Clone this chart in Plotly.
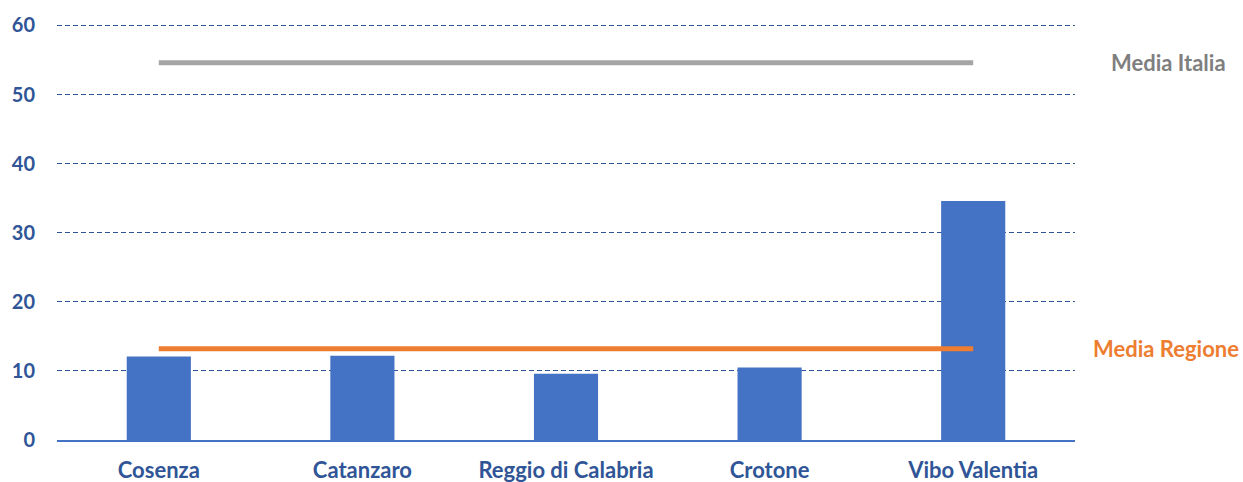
import plotly.graph_objects as go

# Province of Calabria and their values
province = ["Cosenza", "Catanzaro", "Reggio di Calabria", "Crotone", "Vibo Valentia"]
valori = [12.1, 12.2, 9.6, 10.5, 34.6]

# Reference averages
media_italia = 54.6
media_regione = 13.2

y_ticks = [0, 10, 20, 30, 40, 50, 60]

BLUE = "#4472C4"
DARK_BLUE = "#2F5597"
GREY = "#A5A5A5"
ORANGE = "#ED7D31"
FONT = "Lato"

fig = go.Figure()

fig.add_trace(go.Bar(
    x=province, y=valori,
    marker=dict(color=BLUE, line=dict(width=0)),
    width=0.315,
    showlegend=False,
))

fig.add_trace(go.Scatter(
    x=province, y=[media_italia] * len(province),
    mode="lines", line=dict(color=GREY, width=5),
    showlegend=False,
))

fig.add_trace(go.Scatter(
    x=province, y=[media_regione] * len(province),
    mode="lines", line=dict(color=ORANGE, width=5),
    showlegend=False,
))

fig.add_annotation(
    x=1.092, xref="paper", y=media_italia, yref="y",
    text="<b>Media Italia</b>", showarrow=False, xanchor="center",
    font=dict(family=FONT, size=22, color="#7F7F7F"),
)
fig.add_annotation(
    x=1.089, xref="paper", y=media_regione, yref="y",
    text="<b>Media Regione</b>", showarrow=False, xanchor="center",
    font=dict(family=FONT, size=22, color=ORANGE),
)

fig.update_layout(
    width=1243, height=482,
    margin=dict(l=57, r=168, t=22, b=42),
    paper_bgcolor="white", plot_bgcolor="white",
    font=dict(family=FONT, size=20, color=DARK_BLUE),
    xaxis=dict(
        showgrid=False, showline=True, linecolor=BLUE, linewidth=1.5,
        tickfont=dict(family=FONT, size=22, color=DARK_BLUE, weight="bold"),
        ticks="", ticklabelstandoff=10, automargin=False,
    ),
    yaxis=dict(
        range=[0, 60.5], tickvals=y_ticks,
        showgrid=True, gridcolor=DARK_BLUE, griddash="5px,3px", gridwidth=1,
        zeroline=False, showline=False,
        tickfont=dict(family=FONT, size=20, color=DARK_BLUE, weight="bold"),
        ticks="", ticklabelstandoff=21, automargin=False,
    ),
)

fig.write_html("out.html")
